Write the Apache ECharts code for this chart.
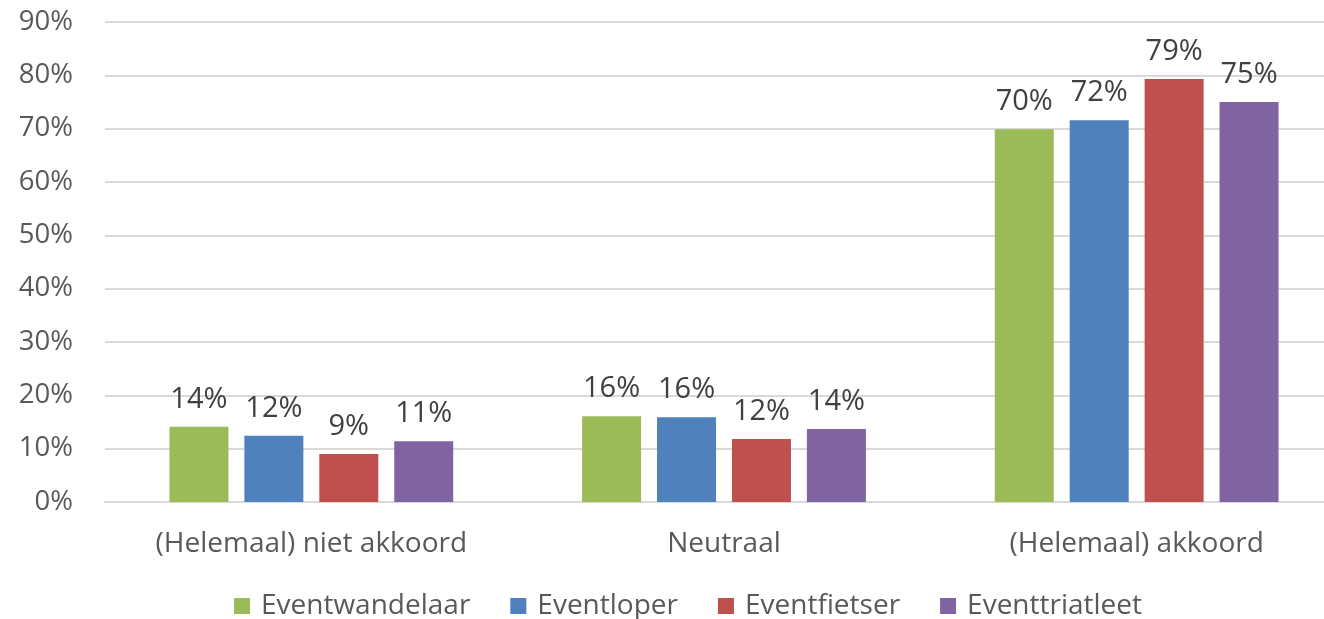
<!DOCTYPE html>
<html>
<head>
<meta charset="utf-8">
<script src="https://cdn.jsdelivr.net/npm/echarts@6/dist/echarts.min.js"></script>
<style>
  html, body { margin: 0; padding: 0; background: #fff; overflow: hidden; }
  #chart { width: 1350px; height: 619px; }
</style>
</head>
<body>
<div id="chart"></div>
<script>
const categories = ['(Helemaal) niet akkoord', 'Neutraal', '(Helemaal) akkoord']
const seriesNames = ['Eventwandelaar', 'Eventloper', 'Eventfietser', 'Eventtriatleet']
const wandelaar = [14.1, 16.1, 69.9]
const loper = [12.4, 15.9, 71.6]
const fietser = [9.0, 11.8, 79.3]
const triatleet = [11.4, 13.7, 75.0]
const colors = ['#9BBB59', '#4F81BD', '#C0504D', '#8064A2']

const font = 'Open Sans'
const chart = echarts.init(document.getElementById('chart'))

const makeSeries = (name, data, i) => ({
  name: name,
  type: 'bar',
  data: data,
  barWidth: 59,
  barGap: '27%',
  itemStyle: { color: colors[i] },
  label: {
    show: true,
    position: 'top',
    distance: 13,
    color: '#404040',
    fontSize: 29,
    fontFamily: font,
    formatter: p => Math.round(p.value) + '%'
  }
})

chart.setOption({
  animation: false,
  backgroundColor: '#fff',
  grid: { left: 105, top: 22, width: 1238, height: 480, containLabel: false },
  legend: {
    top: 587,
    left: 229,
    itemWidth: 16,
    itemHeight: 16,
    itemGap: 40,
    icon: 'rect',
    textStyle: { color: '#595959', fontSize: 28, fontFamily: font, padding: [0, 0, 0, 6] },
    data: seriesNames
  },
  xAxis: {
    type: 'category',
    data: categories,
    axisLine: { lineStyle: { color: '#d9d9d9', width: 2 } },
    axisTick: { show: false },
    axisLabel: { color: '#595959', fontSize: 28, fontFamily: font, margin: 28 }
  },
  yAxis: {
    type: 'value',
    min: 0,
    max: 90,
    interval: 10,
    axisLine: { show: false },
    axisTick: { show: false },
    axisLabel: { color: '#595959', fontSize: 27.5, fontFamily: font, margin: 32, formatter: '{value}%' },
    splitLine: { lineStyle: { color: '#d9d9d9', width: 2 } }
  },
  series: [
    makeSeries(seriesNames[0], wandelaar, 0),
    makeSeries(seriesNames[1], loper, 1),
    makeSeries(seriesNames[2], fietser, 2),
    makeSeries(seriesNames[3], triatleet, 3)
  ]
})
</script>
</body>
</html>
